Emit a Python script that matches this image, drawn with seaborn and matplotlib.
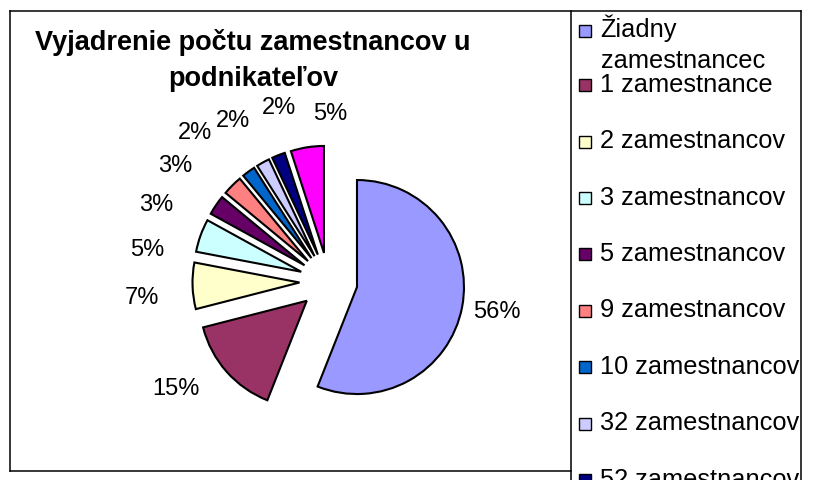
import numpy as np
import matplotlib
matplotlib.use("Agg")
import matplotlib.pyplot as plt
from matplotlib.patches import Rectangle
import seaborn as sns

# slices, clockwise from 12 o'clock (last legend entry is cut off in the source)
categories = ['Žiadny\nzamestnancec', '1 zamestnance', '2 zamestnancov', '3 zamestnancov',
              '5 zamestnancov', '9 zamestnancov', '10 zamestnancov', '32 zamestnancov',
              '52 zamestnancov', '']
shares = [56, 15, 7, 5, 3, 3, 2, 2, 2, 5]
colors = ['#9999FF', '#993366', '#FFFFCC', '#CCFFFF', '#660066',
          '#FF8080', '#0066CC', '#CCCCFF', '#000080', '#FF00FF']
title_lines = ['Vyjadrenie počtu zamestnancov u', 'podnikateľov']

# label placement: degrees off the slice bisector, px from pie centre
lbl_shift = [-1.5, -4.6, 4.9, 11.7, 11.8, 9.4, 7.2, 2.8, -5.2, -9.5]
lbl_dist = [172, 190, 188, 183, 186, 189, 195, 182, 175, 162]

W, H = 817, 480
cx, cy, R = 328.5, H - 281.6, 107

sns.set_theme(style="white")
plt.rcParams['font.family'] = ['Liberation Sans', 'DejaVu Sans']

fig = plt.figure(figsize=(W / 100, H / 100), dpi=100)
ax = fig.add_axes([0, 0, 1, 1])
# explode is in data units here (pixels), every slice pulled out
wedges, _ = ax.pie(shares, colors=colors, startangle=90, counterclock=False,
                   center=(cx, cy), radius=R, explode=[29] * len(shares),
                   wedgeprops=dict(edgecolor='black', linewidth=1.5), frame=True)
ax.set_xlim(0, W)
ax.set_ylim(0, H)
ax.set_aspect('equal')
ax.axis('off')

for w, v, da, d in zip(wedges, shares, lbl_shift, lbl_dist):
    a = np.deg2rad((w.theta1 + w.theta2) / 2 + da)
    ax.text(cx + d * np.cos(a), cy + d * np.sin(a), f'{v}%',
            ha='center', va='baseline', fontsize=17, color='black')

# title
ax.text(253, H - 49.5, title_lines[0], ha='center', va='baseline',
        fontsize=19.5, fontweight='bold', color='black')
ax.text(253, H - 86, title_lines[1], ha='center', va='baseline',
        fontsize=19.5, fontweight='bold', color='black')

# chart frame + legend box
frame = dict(color='black', lw=1.1, solid_capstyle='projecting')
ax.plot([10, 801], [H - 11, H - 11], **frame)
ax.plot([10, 10], [H - 11, H - 471], **frame)
ax.plot([10, 571], [H - 471, H - 471], **frame)
ax.plot([571, 571], [H - 11, 0], **frame)
ax.plot([801, 801], [H - 11, 0], **frame)

# legend, clipped to its box like the original
lax = fig.add_axes([571 / W, 0, (801 - 571) / W, 1])
lax.set_xlim(571, 801)
lax.set_ylim(0, H)
lax.axis('off')
base = 37.3
for i, (lab, col) in enumerate(zip(categories, colors)):
    if i == 1:
        base = 91.7
    elif i > 1:
        base += 56.43
    lax.add_patch(Rectangle((578.5, H - base + 0.5), 12.5, 12, facecolor=col,
                            edgecolor='black', lw=1.0, clip_on=True))
    for k, line in enumerate(lab.split('\n')):
        lax.text(600.5, H - base - 31 * k, line, ha='left', va='baseline',
                 fontsize=18.3, color='black', clip_on=True, clip_box=lax.bbox)

fig.savefig('out.png', dpi=100)
